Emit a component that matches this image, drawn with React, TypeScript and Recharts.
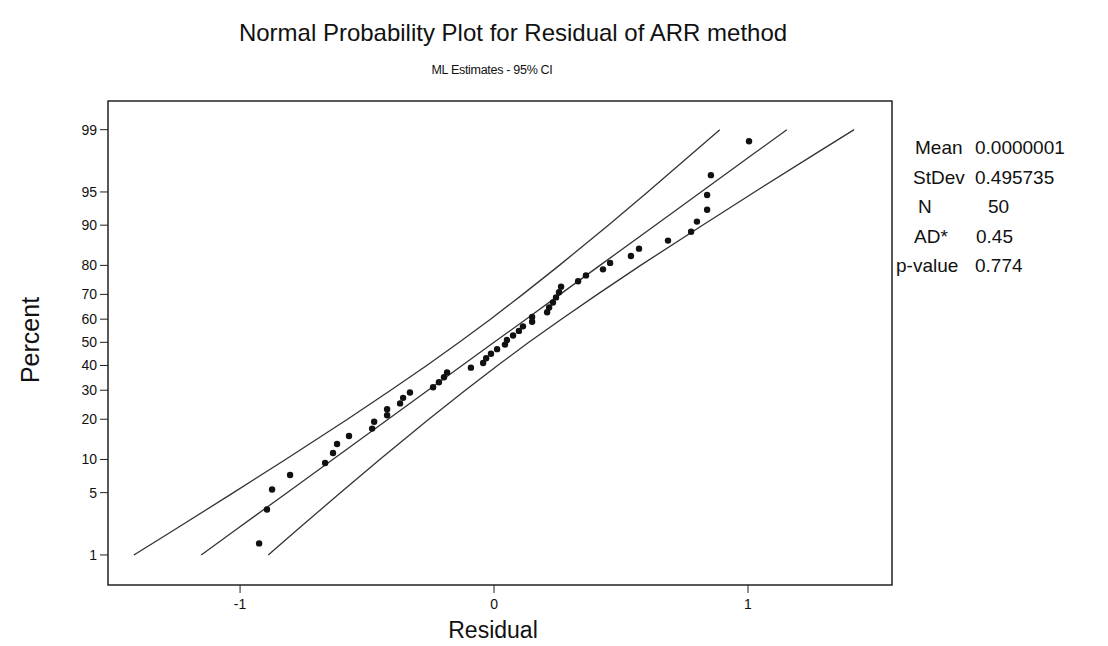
import { ScatterChart, Scatter, XAxis, YAxis, ReferenceArea } from "recharts";

// residuals, sorted
const residual = [
  -0.925, -0.894, -0.874, -0.803, -0.665, -0.634, -0.618, -0.571, -0.48, -0.472,
  -0.421, -0.421, -0.37, -0.358, -0.331, -0.24, -0.217, -0.197, -0.185, -0.091,
  -0.043, -0.031, -0.012, 0.012, 0.043, 0.051, 0.075, 0.098, 0.114, 0.15,
  0.15, 0.209, 0.217, 0.232, 0.244, 0.256, 0.264, 0.331, 0.362, 0.429,
  0.457, 0.539, 0.571, 0.685, 0.776, 0.799, 0.839, 0.839, 0.854, 1.004,
];
// plotted percent for each point
const percent = [
  1.39, 3.37, 5.36, 7.34, 9.33, 11.31, 13.29, 15.28, 17.26, 19.25,
  21.23, 23.21, 25.2, 27.18, 29.17, 31.15, 33.13, 35.12, 37.1, 39.09,
  41.07, 43.06, 45.04, 47.02, 49.01, 50.99, 52.98, 54.96, 56.94, 58.93,
  60.91, 62.9, 64.88, 66.87, 68.85, 70.83, 72.82, 74.8, 76.79, 78.77,
  80.75, 82.74, 84.72, 86.71, 88.69, 90.67, 92.66, 94.64, 96.63, 98.61,
];

// fitted line and 95% CI bands
const bandPct = [1, 2, 5, 10, 20, 30, 40, 50, 60, 70, 80, 90, 95, 98, 99];
const fitX = [-1.153, -1.018, -0.815, -0.635, -0.417, -0.26, -0.126, 0, 0.126, 0.26, 0.417, 0.635, 0.815, 1.018, 1.153];
const lowerX = [-1.418, -1.26, -1.026, -0.821, -0.577, -0.407, -0.265, -0.137, -0.014, 0.113, 0.257, 0.45, 0.605, 0.776, 0.889];
const upperX = [-0.889, -0.776, -0.605, -0.45, -0.257, -0.113, 0.014, 0.137, 0.265, 0.407, 0.577, 0.821, 1.026, 1.26, 1.418];

const yTicks = [1, 5, 10, 20, 30, 40, 50, 60, 70, 80, 90, 95, 99];
const xTicks = [-1, 0, 1];

const statLabels = ["Mean", "StDev", "N", "AD*", "p-value"];
const statValues = ["0.0000001", "0.495735", "50", "0.45", "0.774"];
const statLabelLeft = [915, 913, 918, 914, 896];
const statValueLeft = [975, 975, 988, 976, 975];

// inverse normal cdf (Acklam), percent -> z
function probit(pct: number) {
  const p = pct / 100;
  const a = [-39.69683028665376, 220.9460984245205, -275.9285104469687, 138.357751867269, -30.66479806614716, 2.506628277459239];
  const b = [-54.47609879822406, 161.5858368580409, -155.6989798598866, 66.80131188771972, -13.28068155288572];
  const c = [-0.007784894002430293, -0.3223964580411365, -2.400758277161838, -2.549732539343734, 4.374664141464968, 2.938163982698783];
  const d = [0.007784695709041462, 0.3224671290700398, 2.445134137142996, 3.754408661907416];
  const pl = 0.02425;
  if (p < pl) {
    const q = Math.sqrt(-2 * Math.log(p));
    return (((((c[0] * q + c[1]) * q + c[2]) * q + c[3]) * q + c[4]) * q + c[5]) /
      ((((d[0] * q + d[1]) * q + d[2]) * q + d[3]) * q + 1);
  }
  if (p > 1 - pl) {
    const q = Math.sqrt(-2 * Math.log(1 - p));
    return -(((((c[0] * q + c[1]) * q + c[2]) * q + c[3]) * q + c[4]) * q + c[5]) /
      ((((d[0] * q + d[1]) * q + d[2]) * q + d[3]) * q + 1);
  }
  const q = p - 0.5;
  const r = q * q;
  return (((((a[0] * r + a[1]) * r + a[2]) * r + a[3]) * r + a[4]) * r + a[5]) * q /
    (((((b[0] * r + b[1]) * r + b[2]) * r + b[3]) * r + b[4]) * r + 1);
}

const points = residual.map((x, i) => ({ x, y: probit(percent[i]) }));
const fitData = bandPct.map((p, i) => ({ x: fitX[i], y: probit(p) }));
const lowerData = bandPct.map((p, i) => ({ x: lowerX[i], y: probit(p) }));
const upperData = bandPct.map((p, i) => ({ x: upperX[i], y: probit(p) }));
const yTickZ = yTicks.map(probit);

const X_DOMAIN: [number, number] = [-1.52, 1.567];
const Y_DOMAIN: [number, number] = [-2.655, 2.64];
const FONT = "'Liberation Sans', Arial, sans-serif";

const Dot = (props: any) => <circle cx={props.cx} cy={props.cy} r={3.2} fill="#111" />;
const NoShape = () => <g />;

const XTick = (props: any) => (
  <text x={props.x} y={props.y + 14} textAnchor="middle" fontSize={14} fontFamily={FONT} fill="#111">
    {props.payload.value}
  </text>
);

const YTick = (props: any) => {
  const i = yTickZ.findIndex((z) => Math.abs(z - props.payload.value) < 1e-6);
  return (
    <text x={props.x - 1} y={props.y + 5} textAnchor="end" fontSize={14} fontFamily={FONT} fill="#111">
      {i >= 0 ? yTicks[i] : ""}
    </text>
  );
};

export default function App() {
  const lineStyle = { stroke: "#333", strokeWidth: 1.3 };
  return (
    <div
      style={{
        position: "fixed",
        left: 0,
        top: 0,
        width: 1108,
        height: 646,
        background: "#fff",
        fontFamily: FONT,
        color: "#111",
      }}
    >
      <div style={{ position: "absolute", left: 0, width: 1026, top: 18, textAlign: "center", fontSize: 24, lineHeight: "30px" }}>
        Normal Probability Plot for Residual of ARR method
      </div>
      <div style={{ position: "absolute", left: 0, width: 984, top: 62, textAlign: "center", fontSize: 12.5, lineHeight: "16px", letterSpacing: -0.3 }}>
        ML Estimates - 95% CI
      </div>

      <ScatterChart
        width={1108}
        height={646}
        margin={{ top: 101, right: 216, bottom: 21, left: 58 }}
        style={{ position: "absolute", left: 0, top: 0 }}
      >
        <XAxis
          type="number"
          dataKey="x"
          domain={X_DOMAIN}
          ticks={xTicks}
          interval={0}
          height={40}
          axisLine={false}
          tickSize={8}
          tick={XTick}
          tickLine={{ stroke: "#222" }}
          allowDataOverflow
        />
        <YAxis
          type="number"
          dataKey="y"
          domain={Y_DOMAIN}
          ticks={yTickZ}
          interval={0}
          width={50}
          axisLine={false}
          tickSize={8}
          tick={YTick}
          tickLine={{ stroke: "#222" }}
          allowDataOverflow
        />
        <ReferenceArea
          x1={X_DOMAIN[0]}
          x2={X_DOMAIN[1]}
          y1={Y_DOMAIN[0]}
          y2={Y_DOMAIN[1]}
          fill="none"
          stroke="#222"
          strokeWidth={1.5}
          ifOverflow="visible"
        />
        <Scatter data={lowerData} line={lineStyle} lineType="joint" shape={NoShape} isAnimationActive={false} />
        <Scatter data={fitData} line={lineStyle} lineType="joint" shape={NoShape} isAnimationActive={false} />
        <Scatter data={upperData} line={lineStyle} lineType="joint" shape={NoShape} isAnimationActive={false} />
        <Scatter data={points} shape={Dot} isAnimationActive={false} />
      </ScatterChart>

      <div style={{ position: "absolute", left: 0, width: 986, top: 618, textAlign: "center", fontSize: 23, lineHeight: "24px" }}>
        Residual
      </div>
      <div
        style={{
          position: "absolute",
          left: 30,
          top: 340,
          fontSize: 25,
          lineHeight: "30px",
          transform: "translate(-50%, -50%) rotate(-90deg)",
          whiteSpace: "nowrap",
        }}
      >
        Percent
      </div>

      {statLabels.map((label, i) => (
        <div
          key={label}
          style={{
            position: "absolute",
            left: statLabelLeft[i],
            top: 137 + i * 29.5,
            fontSize: 19,
            lineHeight: "22px",
            whiteSpace: "nowrap",
          }}
        >
          {label}
        </div>
      ))}
      {statValues.map((v, i) => (
        <div
          key={statLabels[i]}
          style={{
            position: "absolute",
            left: statValueLeft[i],
            top: 137 + i * 29.5,
            fontSize: 19,
            lineHeight: "22px",
            whiteSpace: "nowrap",
          }}
        >
          {v}
        </div>
      ))}
    </div>
  );
}
